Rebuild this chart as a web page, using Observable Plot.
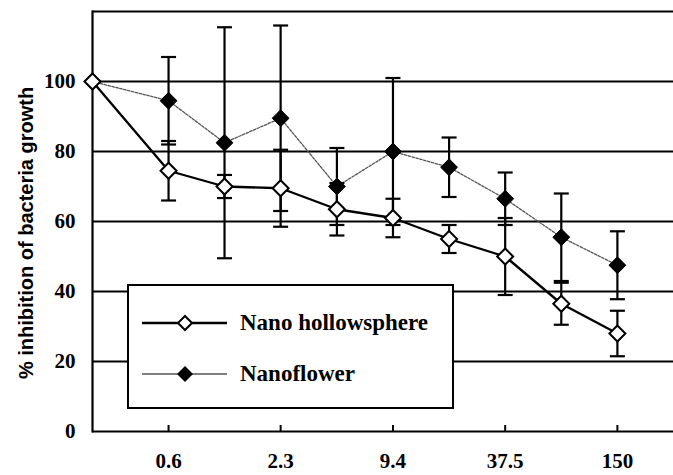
<!DOCTYPE html>
<html>
<head>
<meta charset="utf-8">
<script src="https://cdn.jsdelivr.net/npm/d3@7"></script>
<script src="https://cdn.jsdelivr.net/npm/@observablehq/plot@0.6"></script>
<style>
  body { margin: 0; background: #fff; }
  #wrap { position: relative; width: 673px; height: 475px; overflow: hidden; background: #fff; }
  #ylabel {
    position: absolute; left: 26px; top: 233px;
    transform: translate(-50%, -50%) rotate(-90deg);
    font-family: "Liberation Sans", Arial, sans-serif; font-weight: bold; font-size: 20px;
    white-space: nowrap; color: #000;
  }
  #legend {
    position: absolute; left: 127px; top: 284px; width: 327px; height: 125px;
    box-sizing: border-box; border: 2px solid #000; background: #fff;
  }
  #legend svg { position: absolute; left: 0; top: 0; }
  .lg-text {
    position: absolute; left: 111px; transform: translateY(-50%);
    font-family: "Liberation Serif", "Times New Roman", serif; font-weight: bold; font-size: 23px;
    white-space: nowrap; color: #000;
  }
</style>
</head>
<body>
<div id="wrap"></div>
<script>
// ---- data ----
const doseLabels = ["0", "0.6", "1.2", "2.3", "4.7", "9.4", "18.75", "37.5", "75", "150"];
// two-fold dilutions of 150; the untreated control (0) sits on the y axis origin
const doses = [0.229, 0.586, 1.17, 2.34, 4.69, 9.375, 18.75, 37.5, 75, 150];
const hollowsphere = [100, 74.5, 70, 69.5, 63.5, 61, 55, 50, 36.5, 28];
const hollowsphereErr = [0, 8.5, 3.3, 11, 7.5, 5.5, 4, 11, 6, 6.5];
const nanoflower = [100, 94.5, 82.5, 89.5, 70, 80, 75.5, 66.5, 55.5, 47.5];
const nanoflowerErr = [0, 12.5, 33, 26.5, 11, 21, 8.5, 7.5, 12.5, 9.7];
const xTickValues = [0.586, 2.34, 9.375, 37.5, 150];
const xTickLabels = ["0.6", "2.3", "9.4", "37.5", "150"];
const yTickValues = [0, 20, 40, 60, 80, 100];
const gridValues = [20, 40, 60, 80, 100];
const xDomain = [0.229, 300];
const yDomain = [0, 120];
const seriesNames = ["Nano hollowsphere", "Nanoflower"];

// ---- tables ----
const hollowRows = doses.map((d, i) => ({dose: d, label: doseLabels[i], v: hollowsphere[i], e: hollowsphereErr[i]}));
const flowerRows = doses.map((d, i) => ({dose: d, label: doseLabels[i], v: nanoflower[i], e: nanoflowerErr[i]}));
const hollowErrRows = hollowRows.filter(r => r.e > 0);
const flowerErrRows = flowerRows.filter(r => r.e > 0);

const cap = { draw(ctx) { ctx.moveTo(-7.5, 0); ctx.lineTo(7.5, 0); } };
const serif = "Liberation Serif, Times New Roman, serif";

const chart = Plot.plot({
  width: 673,
  height: 475,
  marginLeft: 92,
  marginRight: 0,
  marginTop: 11,
  marginBottom: 44,
  style: {background: "#fff", color: "#000", overflow: "visible"},
  x: {type: "log", base: 2, domain: xDomain},
  y: {domain: yDomain},
  marks: [
    Plot.ruleY(gridValues, {stroke: "#000", strokeWidth: 2}),
    Plot.ruleY(yDomain, {stroke: "#000", strokeWidth: 2.2}),
    Plot.frame({anchor: "left", stroke: "#000", strokeWidth: 2.2}),
    Plot.tickX(xTickValues, {x: d => d, stroke: "#000", strokeWidth: 2, insetTop: 414}),
    Plot.axisX(xTickValues, {
      tickSize: 0, tickPadding: 22, label: null,
      tickFormat: d => xTickLabels[xTickValues.indexOf(d)],
      fontFamily: serif, fontSize: 21, fontWeight: "bold"
    }),
    Plot.axisY(yTickValues, {
      tickSize: 0, tickPadding: 17, label: null,
      fontFamily: serif, fontSize: 21, fontWeight: "bold"
    }),
    // lines
    Plot.line(flowerRows, {x: "dose", y: "v", stroke: "#555", strokeWidth: 1.3, strokeDasharray: "2.5,1.5"}),
    Plot.line(hollowRows, {x: "dose", y: "v", stroke: "#000", strokeWidth: 2.3}),
    // error bars
    Plot.ruleX(flowerErrRows, {x: "dose", y1: d => d.v - d.e, y2: d => d.v + d.e, stroke: "#000", strokeWidth: 2.2}),
    Plot.ruleX(hollowErrRows, {x: "dose", y1: d => d.v - d.e, y2: d => d.v + d.e, stroke: "#000", strokeWidth: 2.2}),
    Plot.dot(flowerErrRows.flatMap(d => [{dose: d.dose, y: d.v - d.e}, {dose: d.dose, y: d.v + d.e}]),
      {x: "dose", y: "y", symbol: cap, fill: "none", stroke: "#000", strokeWidth: 2.2}),
    Plot.dot(hollowErrRows.flatMap(d => [{dose: d.dose, y: d.v - d.e}, {dose: d.dose, y: d.v + d.e}]),
      {x: "dose", y: "y", symbol: cap, fill: "none", stroke: "#000", strokeWidth: 2.2}),
    // markers
    Plot.dot(flowerRows, {x: "dose", y: "v", symbol: "diamond2", r: 7.6, fill: "#000", stroke: "#000", strokeWidth: 1}),
    Plot.dot(hollowRows, {x: "dose", y: "v", symbol: "diamond2", r: 7.2, fill: "#fff", stroke: "#000", strokeWidth: 2}),
  ]
});

const wrap = document.getElementById("wrap");
wrap.appendChild(chart);

const ylab = document.createElement("div");
ylab.id = "ylabel";
ylab.textContent = "% inhibition of bacteria growth";
wrap.appendChild(ylab);

// legend box drawn inside the plot area, as in the reference
const legend = document.createElement("div");
legend.id = "legend";
legend.innerHTML = `
<svg width="323" height="121">
  <line x1="13" x2="98" y1="37" y2="37" stroke="#000" stroke-width="2.3"/>
  <path d="M56,30 L63,37 L56,44 L49,37 Z" fill="#fff" stroke="#000" stroke-width="2"/>
  <line x1="13" x2="98" y1="88" y2="88" stroke="#555" stroke-width="1.3"/>
  <path d="M56,80 L64,88 L56,96 L48,88 Z" fill="#000"/>
</svg>
<div class="lg-text" style="top:37px">${seriesNames[0]}</div>
<div class="lg-text" style="top:88px">${seriesNames[1]}</div>`;
wrap.appendChild(legend);
</script>
</body>
</html>
